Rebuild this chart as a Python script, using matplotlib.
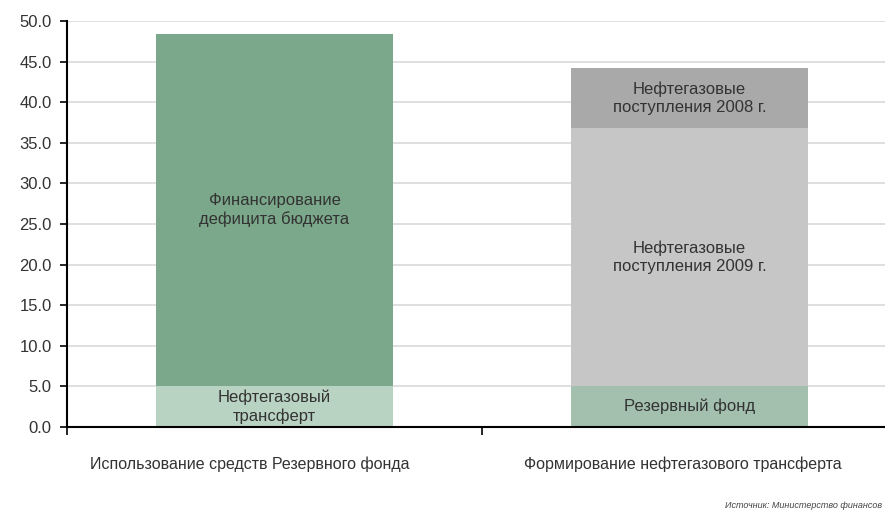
import matplotlib.pyplot as plt

plt.rcParams['font.family'] = ['Liberation Sans', 'DejaVu Sans']

categories = ['Использование средств Резервного фонда', 'Формирование нефтегазового трансферта']

# bar 1: segments from bottom
bar1_values = [5.0, 43.4]
bar1_labels = ['Нефтегазовый\nтрансферт', 'Финансирование\nдефицита бюджета']
bar1_colors = ['#b9d3c2', '#7ba88a']

# bar 2: segments from bottom
bar2_values = [5.0, 31.8, 7.4]
bar2_labels = ['Резервный фонд', 'Нефтегазовые\nпоступления 2009 г.', 'Нефтегазовые\nпоступления 2008 г.']
bar2_colors = ['#a3c0af', '#c6c6c6', '#a9a9a9']

fig = plt.figure(figsize=(8.85, 5.17), dpi=100)
ax = fig.add_axes([67/885, 90/517, 830/885, 406/517])

txt = '#333333'
for i, (vals, labs, cols) in enumerate([(bar1_values, bar1_labels, bar1_colors),
                                         (bar2_values, bar2_labels, bar2_colors)]):
    bottom = 0
    for v, lab, c in zip(vals, labs, cols):
        ax.bar(i, v, bottom=bottom, width=0.57, color=c, zorder=2)
        ax.text(i, bottom + v / 2, lab, ha='center', va='center',
                fontsize=12, color=txt, linespacing=1.25, zorder=3)
        bottom += v

ax.set_xlim(-0.5, 1.5)
ax.set_ylim(0, 50)
ax.set_yticks(range(0, 51, 5))
ax.set_yticklabels([f'{v:.1f}' for v in range(0, 51, 5)], fontsize=12, color=txt)
ax.yaxis.grid(True, color='#d9d9d9', linewidth=1.2, zorder=0)
ax.set_axisbelow(True)

ax.set_xticks([-0.5, 0.5])
ax.set_xticklabels([])
ax.tick_params(axis='x', length=6, width=1.2, direction='out')
ax.tick_params(axis='y', length=5, width=1.2, direction='out', pad=6)

# category labels (slightly off-centre in the original)
ax.text(-0.06, -4.6, categories[0], ha='center', va='center', fontsize=11.5, color=txt)
ax.text(0.985, -4.6, categories[1], ha='center', va='center', fontsize=11.5, color=txt)

for s in ['top', 'right']:
    ax.spines[s].set_visible(False)
ax.spines['left'].set_linewidth(1.5)
ax.spines['bottom'].set_linewidth(1.5)

fig.text(882/885, 1 - 506/517, 'Источник: Министерство финансов', fontsize=6.5,
         style='italic', color='#444444', ha='right', va='center')

fig.savefig('out.png', dpi=100)
